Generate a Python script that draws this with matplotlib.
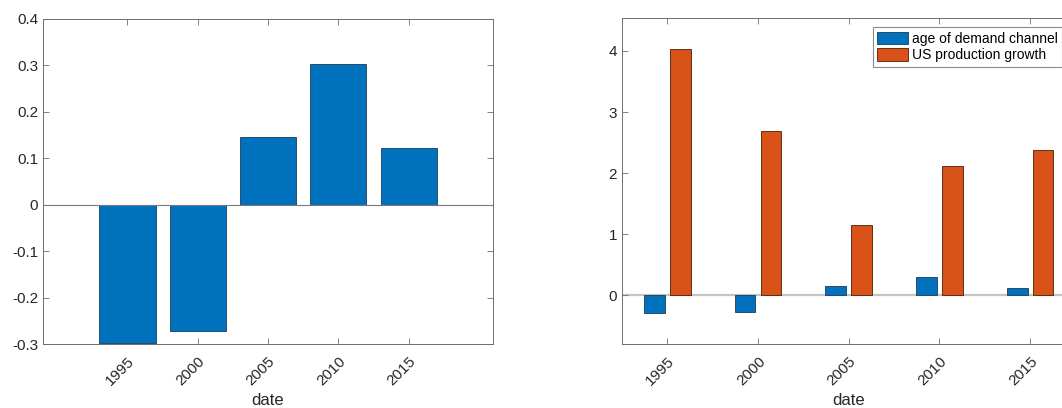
import numpy as np
import matplotlib
matplotlib.use('Agg')
import matplotlib.pyplot as plt

plt.rcParams['font.family'] = ['Liberation Sans', 'DejaVu Sans']

years = [1995, 2000, 2005, 2010, 2015]
age_demand = [-0.297, -0.271, 0.146, 0.304, 0.122]
us_production = [4.033, 2.696, 1.157, 2.117, 2.374]
labels = ['age of demand channel', 'US production growth']

BLUE = '#0072BD'
ORANGE = '#D95319'
AXCOL = '#262626'
SPINE = '#6e6e6e'


def style_axes(ax):
    for s in ax.spines.values():
        s.set_color(SPINE)
        s.set_linewidth(0.7)
    ax.tick_params(direction='in', length=4, width=0.6, color=SPINE,
                   labelcolor=AXCOL, labelsize=11, top=True, right=True)
    ax.tick_params(axis='x', pad=7)
    ax.set_xticks(years)
    ax.set_xticklabels([str(y) for y in years], rotation=45,
                       ha='right', va='top', rotation_mode='anchor')
    ax.set_xlabel('date', fontsize=12, color=AXCOL, labelpad=4)


fig = plt.figure(figsize=(10.62, 4.08), dpi=100)

# left panel
ax1 = fig.add_axes([43 / 1062, 64 / 408, 450 / 1062, 325 / 408])
ax1.bar(years, age_demand, width=4, color=BLUE, edgecolor='#1c3a55', linewidth=0.6, zorder=2)
ax1.axhline(0, color='#7a7a7a', linewidth=0.8, zorder=3)
ax1.set_xlim(1989, 2021)
ax1.set_ylim(-0.3, 0.4)
ax1.set_yticks(np.arange(-0.3, 0.41, 0.1))
ax1.set_yticklabels(['-0.3', '-0.2', '-0.1', '0', '0.1', '0.2', '0.3', '0.4'])
style_axes(ax1)

# right panel (cropped on the right side)
ax2 = fig.add_axes([622 / 1062, 64 / 408, 453.5 / 1062, 326 / 408])
x = np.array(years)
bw = 1.14
off = 0.714
b1 = ax2.bar(x - off, age_demand, width=bw, color=BLUE, edgecolor='#1c3a55', linewidth=0.6, zorder=2)
b2 = ax2.bar(x + off, us_production, width=bw, color=ORANGE, edgecolor='#4a1d08', linewidth=0.6, zorder=2)
ax2.axhline(0, color='#c4c4c4', linewidth=1.6, zorder=1)
ax2.set_xlim(1992.5, 2017.5)
ax2.set_ylim(-0.8, 4.54)
ax2.set_yticks([0, 1, 2, 3, 4])
style_axes(ax2)

leg = fig.legend([b1, b2], labels, loc='upper right',
                 bbox_to_anchor=(1.0, 1 - 27.5 / 408), fontsize=10,
                 frameon=True, fancybox=False, framealpha=1,
                 edgecolor='#8a8a8a', handlelength=2.2, handleheight=1.0,
                 handletextpad=0.3, borderpad=0.3, labelspacing=0.2,
                 borderaxespad=0)
leg.get_frame().set_linewidth(0.8)

fig.savefig('out.png', dpi=100)
